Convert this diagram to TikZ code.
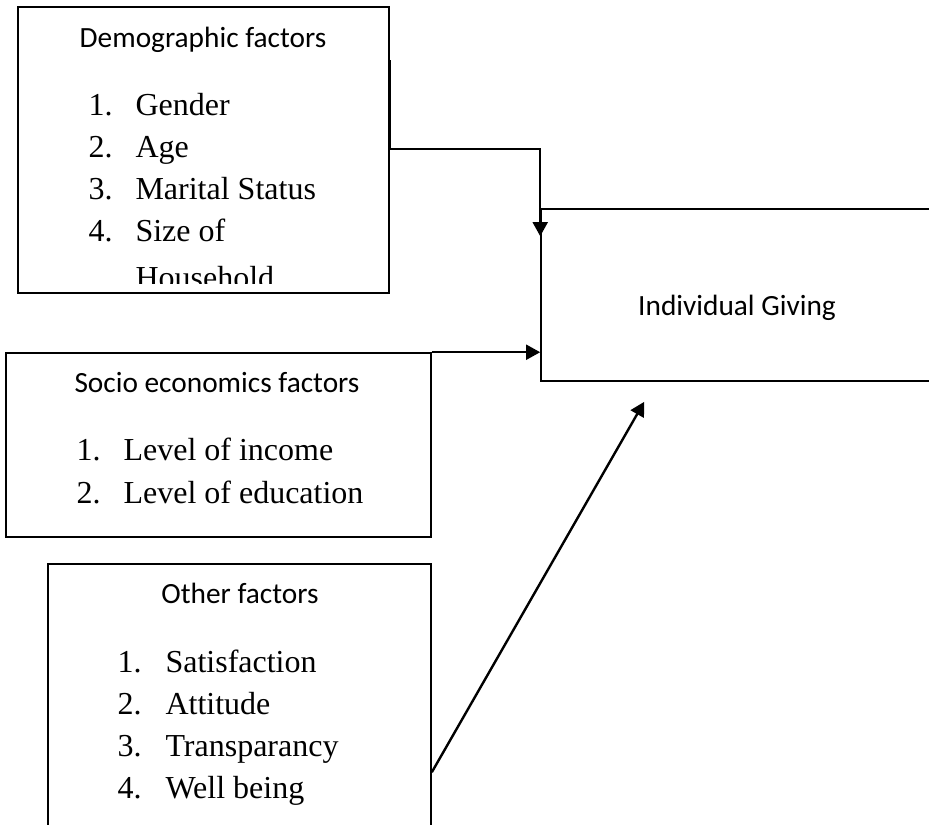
\documentclass[tikz,border=0pt]{standalone}
\usepackage{fontspec}
\setmainfont{Liberation Serif}
\newfontfamily\calibri{Carlito}
\usetikzlibrary{arrows.meta,calc,fit}

\tikzset{
  factorbox/.style={draw, line width=0.6pt, inner sep=0pt},
  boxtitle/.style={font=\calibri\fontsize{11}{13}\selectfont, anchor=base, inner sep=0pt},
  listitem/.style={font=\fontsize{12}{14}\selectfont, anchor=base west, inner sep=0pt},
  link/.style={line width=0.9pt, -{Triangle[length=5.3pt,width=5.6pt]}},
}

\begin{document}
\begin{tikzpicture}[x=0.375pt, y=-0.375pt]
    \useasboundingbox (0,0) rectangle (929,824);
    \clip (0,0) rectangle (929,824);

    % boxes
    \node[factorbox, fit={(18,7) (389,293)}] (demo) {};
    \node[factorbox, fit={(6,353) (431,537)}] (socio) {};
    \node[factorbox, fit={(48,564) (431,860)}] (other) {};
    \node[factorbox, fit={(541,209) (960,381)}] (giving) {};

    % titles
    \node[boxtitle] (demotitle) at (203,47) {Demographic factors};
    \node[boxtitle] (sociotitle) at (217,392) {Socio economics factors};
    \node[boxtitle] (othertitle) at (240,603) {Other factors};
    \node[boxtitle] (givinglabel) at (737,315) {Individual Giving};

    % 1st box
    \foreach \entry [count=\i] in {Gender, Age, Marital Status, Size of}{
        \node[listitem] (demonum\i) at (88,{115+42.3*(\i-1)}) {\i.};
        \node[listitem] (demoitem\i) at (135,{115+42.3*(\i-1)}) {\entry};
    }
    \begin{scope}
        \clip (18,7) rectangle (389,283);
        \node[listitem] (demoitem5) at (135,288) {Household};
    \end{scope}

    % 2nd box
    \foreach \entry [count=\i] in {Level of income, Level of education}{
        \node[listitem] (socionum\i) at (76,{460+43*(\i-1)}) {\i.};
        \node[listitem] (socioitem\i) at (123,{460+43*(\i-1)}) {\entry};
    }

    % 3rd box
    \foreach \entry [count=\i] in {Satisfaction, Attitude, Transparancy, Well being}{
        \node[listitem] (othernum\i) at (117,{672+42.2*(\i-1)}) {\i.};
        \node[listitem] (otheritem\i) at (165,{672+42.2*(\i-1)}) {\entry};
    }

    % connectors
    \draw[link] ($(demo.north east)+(0,54)$) |- ($(giving.north west)+(0,-59)$)
        -- ($(giving.north west)+(0,28)$);
    \draw[link] (socio.north east) -- (socio.north east -| giving.west);
    \draw[link] ($(other.north east)+(0,209)$) -- ($(giving.south west)+(104,20)$);
\end{tikzpicture}
\end{document}
